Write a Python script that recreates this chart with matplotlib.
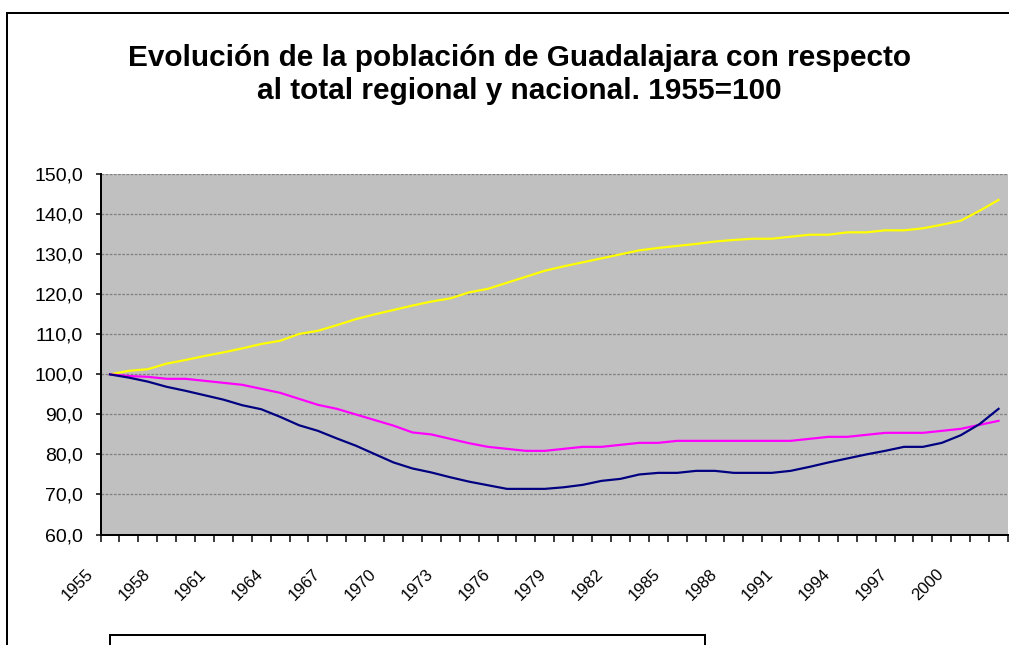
"""
Evolución de la población de Guadalajara, índice 1955=100
"""

import matplotlib
matplotlib.use('Agg')
import matplotlib.pyplot as plt
from matplotlib.patches import Rectangle
from matplotlib.transforms import ScaledTranslation

W, H, DPI = 1009, 645, 100

years = list(range(1955, 2003))
tick_years = list(range(1955, 2001, 3))

# series
guadalajara_vs_region = [
    100.0, 100.9, 101.3, 102.7, 103.6, 104.6, 105.5, 106.5, 107.6, 108.4,
    110.1, 110.9, 112.3, 113.8, 115.0, 116.1, 117.2, 118.2, 119.0, 120.5,
    121.4, 122.9, 124.4, 125.9, 127.0, 128.0, 129.0, 130.0, 131.0, 131.6,
    132.1, 132.6, 133.2, 133.6, 133.9, 133.9, 134.4, 134.9, 134.9, 135.5,
    135.5, 136.0, 136.0, 136.5, 137.4, 138.4, 140.9, 143.6,
]
region_vs_nacion = [
    100.0, 99.6, 99.4, 98.9, 98.9, 98.4, 97.9, 97.4, 96.4, 95.4,
    93.9, 92.4, 91.4, 90.0, 88.6, 87.2, 85.5, 85.0, 83.9, 82.8,
    81.9, 81.4, 80.9, 80.9, 81.4, 81.9, 81.9, 82.4, 82.9, 82.9,
    83.4, 83.4, 83.4, 83.4, 83.4, 83.4, 83.4, 83.9, 84.4, 84.4,
    84.9, 85.4, 85.4, 85.4, 85.9, 86.4, 87.4, 88.4,
]
guadalajara_vs_nacion = [
    100.0, 99.2, 98.2, 96.9, 95.9, 94.8, 93.7, 92.3, 91.3, 89.4,
    87.3, 85.9, 84.0, 82.2, 80.1, 78.0, 76.5, 75.5, 74.3, 73.2,
    72.3, 71.4, 71.4, 71.4, 71.8, 72.4, 73.4, 73.9, 75.0, 75.4,
    75.4, 75.9, 75.9, 75.4, 75.4, 75.4, 75.9, 76.9, 78.0, 79.0,
    80.0, 80.9, 81.9, 81.9, 82.9, 84.8, 87.6, 91.4,
]

COLORS = {
    'gdl_region': '#ffff00',
    'region_nac': '#ff00ff',
    'gdl_nac':    '#000080',
    'plot_bg':    '#c0c0c0',
    'grid':       '#808080',
}

FONT = ['Liberation Sans', 'DejaVu Sans']


def px(v):
    # px -> pt
    return v * 72 / DPI


def main():
    plt.rcParams['font.family'] = FONT
    fig = plt.figure(figsize=(W / DPI, H / DPI), dpi=DPI)

    # área de trazado en px de la imagen
    left, right, top, bottom = 100.5, 1008, 174.3, 534.5
    ax = fig.add_axes([left / W, 1 - bottom / H, (right - left) / W, (bottom - top) / H])
    ax.set_facecolor(COLORS['plot_bg'])

    idx = list(range(len(years)))
    ax.plot(idx, guadalajara_vs_region, color=COLORS['gdl_region'], lw=px(2.2))
    ax.plot(idx, region_vs_nacion, color=COLORS['region_nac'], lw=px(2.2))
    ax.plot(idx, guadalajara_vs_nacion, color=COLORS['gdl_nac'], lw=px(2.2))

    ax.set_xlim(-0.5, len(years) - 0.5)
    ax.set_ylim(60, 150)

    # eje Y
    ax.set_yticks(range(60, 151, 10))
    ax.set_yticklabels([f'{v:.1f}'.replace('.', ',') for v in range(60, 151, 10)])
    ax.tick_params(axis='y', direction='out', length=px(5.5), width=px(1.5),
                   pad=px(12), labelsize=14)
    ax.yaxis.grid(True, color=COLORS['grid'], lw=px(1.3), linestyle=(0, (2, 1.2)))
    ax.set_axisbelow(True)

    # eje X: marcas entre categorías, etiquetas cada 3 años
    ax.set_xticks([i - 0.5 for i in range(len(years) + 1)])
    ax.set_xticklabels([])
    ax.tick_params(axis='x', which='major', direction='out', length=px(7), width=px(1.5))
    ax.set_xticks([years.index(y) for y in tick_years], minor=True)
    ax.set_xticklabels([str(y) for y in tick_years], minor=True)
    ax.tick_params(axis='x', which='minor', length=0, pad=0, labelsize=12)
    off = ScaledTranslation(-14 / DPI, -32 / DPI, fig.dpi_scale_trans)
    for lab in ax.get_xticklabels(minor=True):
        lab.set_rotation(45)
        lab.set_ha('right')
        lab.set_va('top')
        lab.set_transform(lab.get_transform() + off)

    for side in ['top', 'right']:
        ax.spines[side].set_visible(False)
    for side in ['left', 'bottom']:
        ax.spines[side].set_linewidth(px(2))
        ax.spines[side].set_color('black')

    # título
    cx = 519 / W
    fig.text(cx, 1 - 66 / H, 'Evolución de la población de Guadalajara con respecto',
             ha='center', va='baseline', fontsize=21.4, fontweight='bold')
    fig.text(cx, 1 - 99 / H, 'al total regional y nacional. 1955=100',
             ha='center', va='baseline', fontsize=21.4, fontweight='bold')

    # marco del gráfico (cortado a la derecha y abajo)
    fig.add_artist(Rectangle((6.7 / W, -0.2), 1.5, 1.2 - 12.7 / H, transform=fig.transFigure,
                             fill=False, edgecolor='black', lw=px(2)))
    # recuadro de la leyenda, también cortado
    fig.add_artist(Rectangle((110 / W, -0.2), (705 - 110) / W, 0.2 + 1 - 635 / H,
                             transform=fig.transFigure, fill=False, edgecolor='black', lw=px(2)))

    fig.savefig('out.png', dpi=DPI)
    plt.close(fig)


if __name__ == "__main__":
    main()
